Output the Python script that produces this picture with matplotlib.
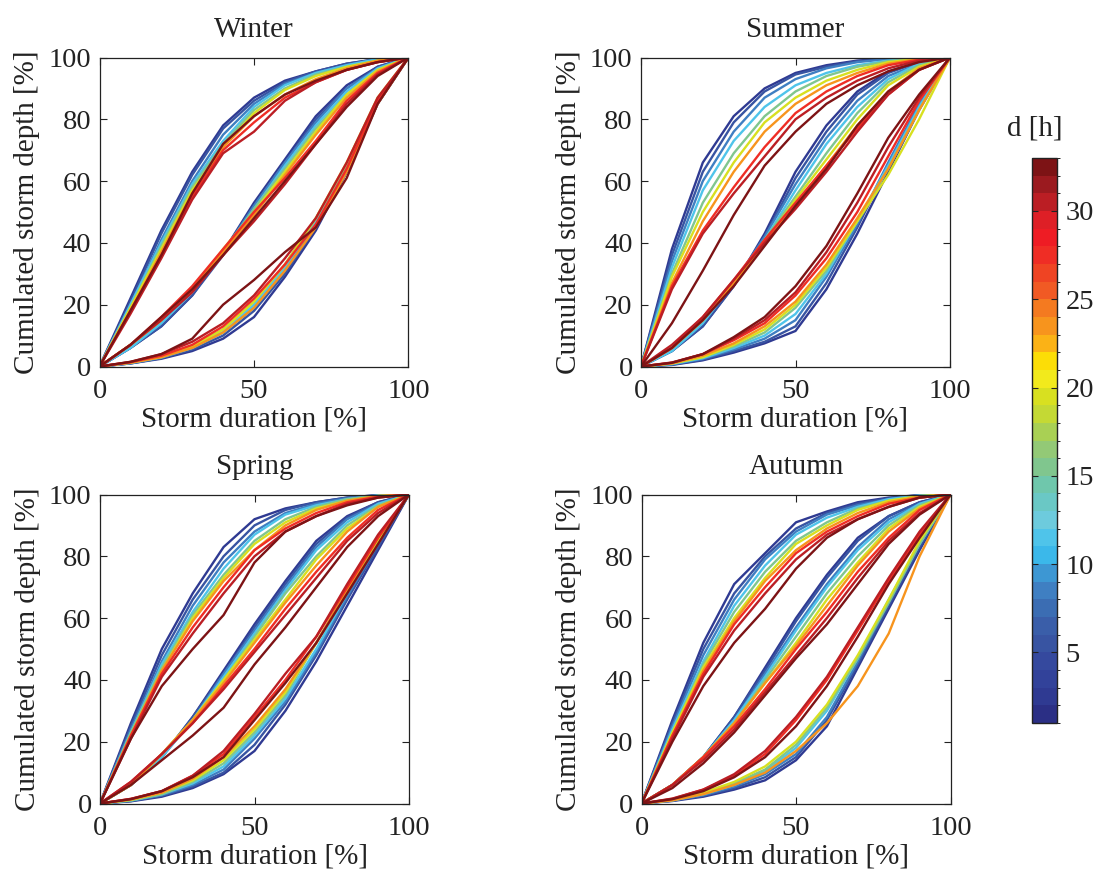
import numpy as np
import matplotlib
matplotlib.use('Agg')
import matplotlib.pyplot as plt
from matplotlib.colors import ListedColormap, BoundaryNorm
from matplotlib.colorbar import ColorbarBase

plt.rcParams['font.family'] = ['Liberation Serif', 'DejaVu Serif']

# Abscisas (duración relativa de la tormenta, %) y duraciones d [h] de cada curva
storm_duration = [0, 10, 20, 30, 40, 50, 60, 70, 80, 90, 100]
durations = [2, 5, 8, 11, 15, 19, 23, 27, 30, 32]
start_depth, end_depth = 0, 100

# Valores interiores (x = 10..90), una fila por duración
winter_upper = [
    [22, 44, 63, 78, 87, 92.5, 95.5, 98, 99.5],
    [21, 43, 62, 77, 86, 92, 95.5, 98, 99.5],
    [20, 41, 60, 75, 85, 91.5, 95, 97.5, 99.5],
    [20, 40, 59, 73, 84, 91, 95, 97.5, 99.5],
    [19, 39, 58, 72, 83, 90, 94.5, 97, 99],
    [19, 38, 57, 71, 82, 89.5, 94, 97, 99],
    [18, 37, 56, 71, 81, 88, 93, 96.5, 99],
    [18, 36, 55, 70, 79, 87, 92, 96, 98.5],
    [17, 35, 54, 69, 76, 86, 92, 96, 98.5],
    [18, 36, 56, 72, 81, 88, 92.5, 96, 98.5],
]
winter_middle = [
    [6, 13, 23, 37, 53, 67, 81, 91, 97],
    [6, 13, 23, 36, 52, 66, 80, 90, 97],
    [6, 14, 24, 37, 52, 66, 79, 90, 96.5],
    [6, 14, 24, 37, 51, 65, 78, 89, 96.5],
    [7, 15, 25, 37, 51, 64, 77, 88, 96],
    [7, 15, 25, 38, 50, 63, 76, 88, 96],
    [7, 15, 25, 37, 49, 62, 75, 87, 95.5],
    [7, 16, 26, 38, 50, 61, 73, 86, 95],
    [7, 15, 24, 36, 47, 59, 72, 85, 94.5],
    [7, 16, 25, 36, 48, 60, 72, 84, 94],
]
winter_lower = [
    [1, 2.5, 5, 9, 16, 29, 44, 63, 85],
    [1, 2.7, 5.5, 10, 18, 30, 45, 63, 85],
    [1, 2.8, 6, 11, 19, 31, 46, 64, 86],
    [1.2, 3, 6, 11, 20, 32, 47, 65, 86],
    [1.2, 3, 6.5, 12, 21, 33, 48, 65, 86],
    [1.3, 3.2, 6.5, 12, 21, 33, 48, 66, 87],
    [1.2, 3, 6, 11, 19, 31, 45, 63, 85],
    [1.4, 3.5, 7, 13, 22, 33, 46, 64, 86],
    [1.5, 4, 8, 14, 23, 35, 48, 66, 87],
    [1.5, 4, 9, 20, 28, 37, 45, 61, 85],
]

summer_upper = [
    [38, 66, 81, 90, 95, 97.5, 99, 99.7, 100],
    [36, 63, 79, 89, 94.5, 97, 98.8, 99.6, 100],
    [34, 60, 76, 87, 93, 96.5, 98.5, 99.5, 100],
    [32, 57, 73, 84, 91, 95, 97.5, 99, 99.8],
    [30, 53, 69, 81, 89, 94, 97, 98.8, 99.7],
    [29, 50, 66, 79, 87, 92.5, 96, 98.5, 99.6],
    [27, 47, 63, 76, 85, 91, 95, 98, 99.5],
    [26, 44, 58, 71, 82, 89, 94, 97.5, 99.3],
    [25, 43, 56, 68, 80, 87, 92.5, 96.5, 99],
    [14, 31, 49, 65, 76, 85, 91, 95.5, 98.5],
]
summer_middle = [
    [5, 13, 26, 43, 63, 78, 89, 95.5, 98.5],
    [5, 13, 26, 42, 61, 76, 88, 95, 98.5],
    [5, 14, 27, 42, 59, 74, 86, 94, 98],
    [5, 14, 27, 41, 57, 72, 84, 93, 98],
    [6, 15, 27, 41, 55, 69, 82, 92, 97.5],
    [6, 15, 27, 40, 54, 67, 80, 91, 97],
    [6, 15, 27, 40, 52, 65, 78, 89, 96.5],
    [6, 16, 28, 41, 53, 65, 77, 88, 96],
    [7, 16, 28, 40, 51, 63, 76, 88, 96],
    [6, 15, 26, 39, 52, 64, 78, 89, 96],
]
summer_lower = [
    [0.5, 2, 4.5, 7.5, 11.5, 25, 43, 63, 83],
    [0.6, 2.2, 5, 8, 13, 27, 45, 65, 84],
    [0.7, 2.5, 5.5, 9, 15, 29, 46, 66, 85],
    [0.8, 2.7, 6, 10, 17, 30, 47, 65, 84],
    [0.9, 3, 6.5, 11, 19, 31, 47, 64, 83],
    [1, 3, 7, 12, 20, 32, 47, 62, 80],
    [1, 3.5, 7.5, 13, 21, 33, 48, 64, 83],
    [1.2, 4, 8.5, 14, 23, 35, 50, 68, 86],
    [1.3, 4, 9, 15, 24, 37, 53, 71, 87],
    [1.2, 4, 9.5, 16, 26, 39, 56, 74, 88],
]

spring_upper = [
    [26, 50, 68, 83, 92, 95.5, 97.5, 99, 99.8],
    [25, 48, 66, 80, 90, 95, 97.5, 99, 99.8],
    [24, 46, 64, 78, 88, 94, 97, 98.8, 99.7],
    [23, 45, 62, 76, 87, 93.5, 96.5, 98.5, 99.7],
    [23, 44, 61, 74, 85, 92, 96, 98.5, 99.6],
    [22, 43, 60, 73, 84, 91, 95.5, 98, 99.5],
    [22, 43, 59, 72, 82, 90, 95, 98, 99.5],
    [22, 42, 57, 70, 82, 89, 94, 97.5, 99.3],
    [21, 41, 55, 68, 80, 88, 93, 97, 99],
    [21, 38, 50, 61, 78, 88, 93, 96.5, 99],
]
spring_middle = [
    [6, 15, 28, 43, 58, 72, 85, 93, 97.5],
    [6, 15, 28, 42, 57, 71, 84, 92.5, 97.5],
    [6, 15, 27, 42, 56, 70, 83, 92, 97],
    [6, 15, 27, 41, 55, 69, 82, 91, 97],
    [6, 16, 27, 40, 54, 68, 80, 90, 96.5],
    [6, 16, 27, 40, 53, 66, 79, 89, 96],
    [6, 16, 27, 39, 52, 65, 77, 88, 96],
    [7, 16, 26, 38, 50, 63, 75, 86, 95],
    [7, 16, 26, 37, 49, 61, 73, 85, 94],
    [6, 14, 22, 31, 45, 57, 70, 83, 93],
]
spring_lower = [
    [0.7, 2.2, 5, 9.5, 17, 30, 46, 64, 82],
    [0.8, 2.5, 5.5, 10, 19, 32, 48, 66, 83],
    [0.9, 2.7, 6, 11, 21, 33, 49, 67, 84],
    [1, 3, 6.5, 12, 22, 34, 50, 68, 85],
    [1, 3, 7, 13, 23, 35, 52, 69, 85],
    [1.2, 3.5, 7.5, 14, 24, 36, 52, 69, 85],
    [1.3, 3.5, 8, 15, 25, 37, 52, 69, 86],
    [1.5, 4, 9, 16, 28, 40, 54, 70, 86],
    [1.5, 4, 9, 17, 29, 42, 54, 71, 87],
    [1.4, 4, 8.5, 15, 27, 39, 52, 68, 84],
]

autumn_upper = [
    [27, 52, 71, 81, 91, 94.5, 97.5, 99, 99.8],
    [26, 50, 68, 80, 89, 94, 97, 98.8, 99.8],
    [25, 48, 66, 79, 88, 93.5, 96.5, 98.5, 99.7],
    [24, 46, 64, 77, 87, 92.5, 96, 98.5, 99.7],
    [23, 45, 62, 75, 85, 91, 95.5, 98, 99.5],
    [23, 44, 60, 73, 84, 90, 95, 98, 99.5],
    [22, 43, 59, 72, 82, 89, 94, 97.5, 99.3],
    [22, 42, 58, 70, 81, 88, 93, 97, 99],
    [21, 41, 56, 68, 79, 87, 92, 96, 99],
    [20, 38, 52, 63, 76, 86, 92, 96, 99],
]
autumn_middle = [
    [6, 15, 28, 44, 60, 74, 86, 93, 97.5],
    [6, 15, 28, 43, 59, 73, 85, 93, 97.5],
    [6, 15, 27, 42, 57, 71, 83, 92, 97],
    [6, 15, 27, 41, 56, 70, 82, 91, 97],
    [6, 15, 26, 40, 54, 68, 80, 90, 96.5],
    [6, 15, 26, 39, 52, 66, 78, 89, 96],
    [6, 15, 26, 39, 51, 64, 77, 88, 95.5],
    [6, 15, 25, 37, 50, 62, 75, 86, 95],
    [6, 14, 24, 36, 48, 60, 73, 85, 94],
    [5, 13, 23, 35, 47, 58, 71, 84, 93.5],
]
autumn_lower = [
    [0.8, 2.2, 4.5, 7.5, 14, 25, 44, 63, 82],
    [0.9, 2.5, 5, 8.5, 15, 27, 45, 64, 83],
    [1, 2.7, 5.5, 9.5, 16, 28, 46, 65, 84],
    [1, 3, 6, 10.5, 18, 30, 47, 66, 84],
    [1.1, 3.2, 6.5, 11, 19, 31, 47, 65, 84],
    [1.2, 3.5, 7, 12, 20, 32, 48, 66, 85],
    [1, 3, 6, 10, 17, 26, 38, 55, 80],
    [1.5, 4.5, 9, 16, 27, 40, 56, 72, 87],
    [1.6, 4.5, 9.5, 17, 28, 41, 57, 73, 88],
    [1.4, 4, 8.5, 15, 25, 38, 54, 71, 86],
]

seasons = ['Winter', 'Summer', 'Spring', 'Autumn']
season_curves = {
    'Winter': (winter_upper, winter_middle, winter_lower),
    'Summer': (summer_upper, summer_middle, summer_lower),
    'Spring': (spring_upper, spring_middle, spring_lower),
    'Autumn': (autumn_upper, autumn_middle, autumn_lower),
}

# Paleta de 32 niveles (d = 1..33 h), de abajo hacia arriba
level_colors = [
    '#2b2f85', '#2f3a92', '#32429a', '#35499e', '#3854a2', '#3a5ea9', '#3b6db3', '#3f7fc2',
    '#3d97d3', '#3bb8ea', '#4fc4ea', '#6dcbdd', '#6ac8c5', '#6fc7ac', '#80c68e', '#93c976',
    '#a9d054', '#c4d934', '#d8e020', '#f2ea1c', '#fcdd06', '#fbb216', '#f7941d', '#f47a20',
    '#f15a24', '#ef4423', '#ef2d25', '#ee1c24', '#de1f26', '#bb1e24', '#9b1a1f', '#7d1315',
]
cmap = ListedColormap(level_colors)
norm = BoundaryNorm(np.arange(1, 34), cmap.N)

W, H = 1098, 873
fig = plt.figure(figsize=(W / 100, H / 100), dpi=100)
axes_px = {
    'Winter': (99.5, 57.5),
    'Summer': (641, 57.5),
    'Spring': (100, 494.5),
    'Autumn': (641.5, 494.5),
}
side = 309
fs = 21
tfs = 20.5
ink = '#222222'

for name in seasons:
    left, top = axes_px[name]
    ax = fig.add_axes([left / W, 1 - (top + side) / H, side / W, side / H])
    for i, d in enumerate(durations):
        col = cmap(norm(d + 0.5))
        for bundle in season_curves[name]:
            y = [start_depth] + list(bundle[i]) + [end_depth]
            ax.plot(storm_duration, y, color=col, lw=1.7, solid_joinstyle='round')
    ax.set_xlim(0, 100)
    ax.set_ylim(0, 100)
    ax.set_xticks([0, 50, 100])
    ax.set_yticks([0, 20, 40, 60, 80, 100])
    ax.tick_params(direction='in', top=True, right=True, length=5, width=0.8,
                   labelsize=tfs, colors=ink)
    ax.tick_params(axis='x', pad=9)
    ax.tick_params(axis='y', pad=6)
    for sp in ax.spines.values():
        sp.set_color(ink)
        sp.set_linewidth(0.9)
    ax.set_title(name, fontsize=fs, color=ink, pad=15)
    ax.set_xlabel('Storm duration [%]', fontsize=fs, color=ink, labelpad=2)
    ax.set_ylabel('Cumulated storm depth [%]', fontsize=fs, color=ink, labelpad=6)

cax = fig.add_axes([1032 / W, 1 - 723 / H, 25 / W, 565 / H])
cb = ColorbarBase(cax, cmap=cmap, norm=norm, boundaries=np.arange(1, 34),
                  ticks=[5, 10, 15, 20, 25, 30], orientation='vertical')
cb.outline.set_edgecolor(ink)
cb.outline.set_linewidth(1.0)
cax.tick_params(direction='in', left=True, right=True, length=4, width=0.8,
                labelsize=tfs, colors=ink, pad=6)
fig.text(1035 / W, 1 - 128 / H, 'd [h]', fontsize=fs, color=ink,
         ha='center', va='center')

fig.savefig('out.png', dpi=100)
